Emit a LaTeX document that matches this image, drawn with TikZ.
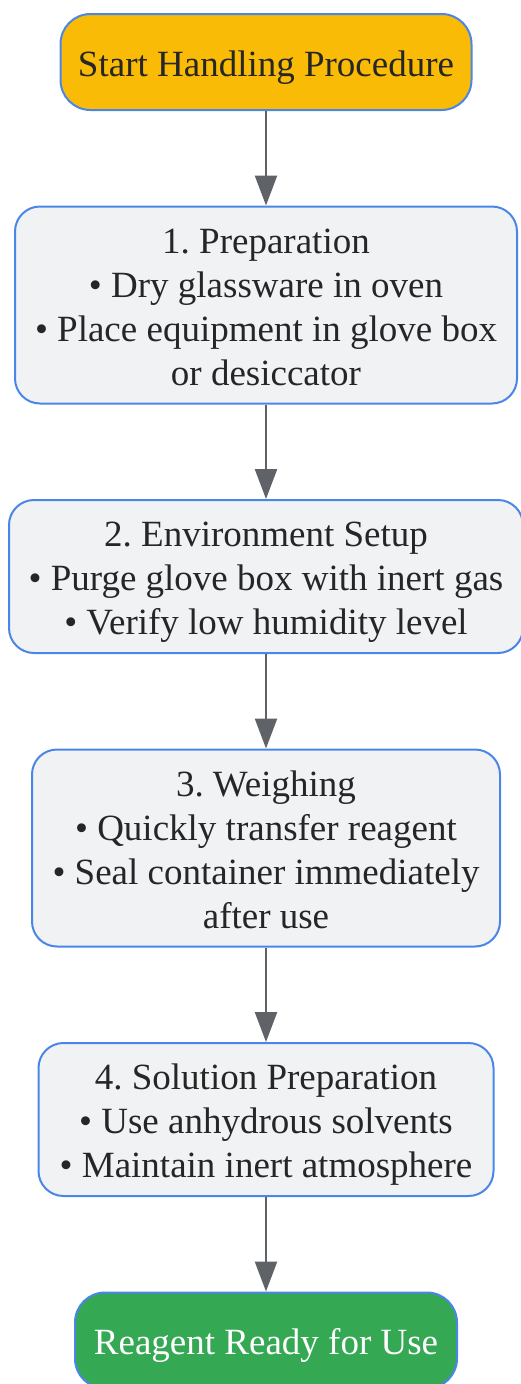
\documentclass[tikz,border=0pt]{standalone}
\usepackage{fontspec}
\setmainfont{Liberation Serif}
\frenchspacing
\usetikzlibrary{positioning, arrows.meta}
\definecolor{edgeblue}{HTML}{4A86E8}
\definecolor{startfill}{HTML}{F9BB05}
\definecolor{readyfill}{HTML}{34A853}
\definecolor{stepfill}{HTML}{F1F2F4}
\definecolor{arrowgray}{HTML}{5F6368}
\definecolor{textgray}{HTML}{262626}
\tikzset{
	x=1pt, y=1pt, % one unit is one pixel of the reference
	node distance=94.5pt, % gap between two boxes
	every node/.style={font=\fontsize{37pt}{44pt}\selectfont, align=center, inner sep=0pt, text=textgray, text height=28pt, text depth=0pt},
	terminal/.style={draw=edgeblue, line width=2pt, rounded corners=30pt, minimum height=96pt}, % start and end pills
	stepbox/.style={draw=edgeblue, line width=2pt, rounded corners=25pt, fill=stepfill}, % the four steps
	flow/.style={-{Triangle[width=22pt,length=30pt]}, draw=arrowgray, line width=2.5pt},
}

\begin{document}
\begin{tikzpicture}
	\useasboundingbox (0,0) rectangle (521,-1384);

	\node[terminal, fill=startfill, minimum width=411pt] (start) at (266,-62) {Start Handling Procedure};
	\node[stepbox, minimum width=502pt, minimum height=197pt, text height=160pt] (prep) [below=of start] {1. Preparation\\• Dry glassware in oven\\• Place equipment in glove box\\or desiccator};
	\node[stepbox, minimum width=514pt, minimum height=153pt, text height=116pt] (env) [below=of prep] {2. Environment Setup\\• Purge glove box with inert gas\\• Verify low humidity level};
	\node[stepbox, minimum width=468pt, minimum height=197pt, text height=160pt] (weigh) [below=of env] {3. Weighing\\• Quickly transfer reagent\\• Seal container immediately\\after use};
	\node[stepbox, minimum width=455pt, minimum height=153pt, text height=116pt] (sol) [below=of weigh] {4. Solution Preparation\\• Use anhydrous solvents\\• Maintain inert atmosphere};
	\node[terminal, fill=readyfill, text=white, minimum width=382pt] (ready) [below=of sol] {Reagent Ready for Use};

	\draw[flow] (start) -- (prep);
	\draw[flow] (prep) -- (env);
	\draw[flow] (env) -- (weigh);
	\draw[flow] (weigh) -- (sol);
	\draw[flow] (sol) -- (ready);
\end{tikzpicture}
\end{document}
